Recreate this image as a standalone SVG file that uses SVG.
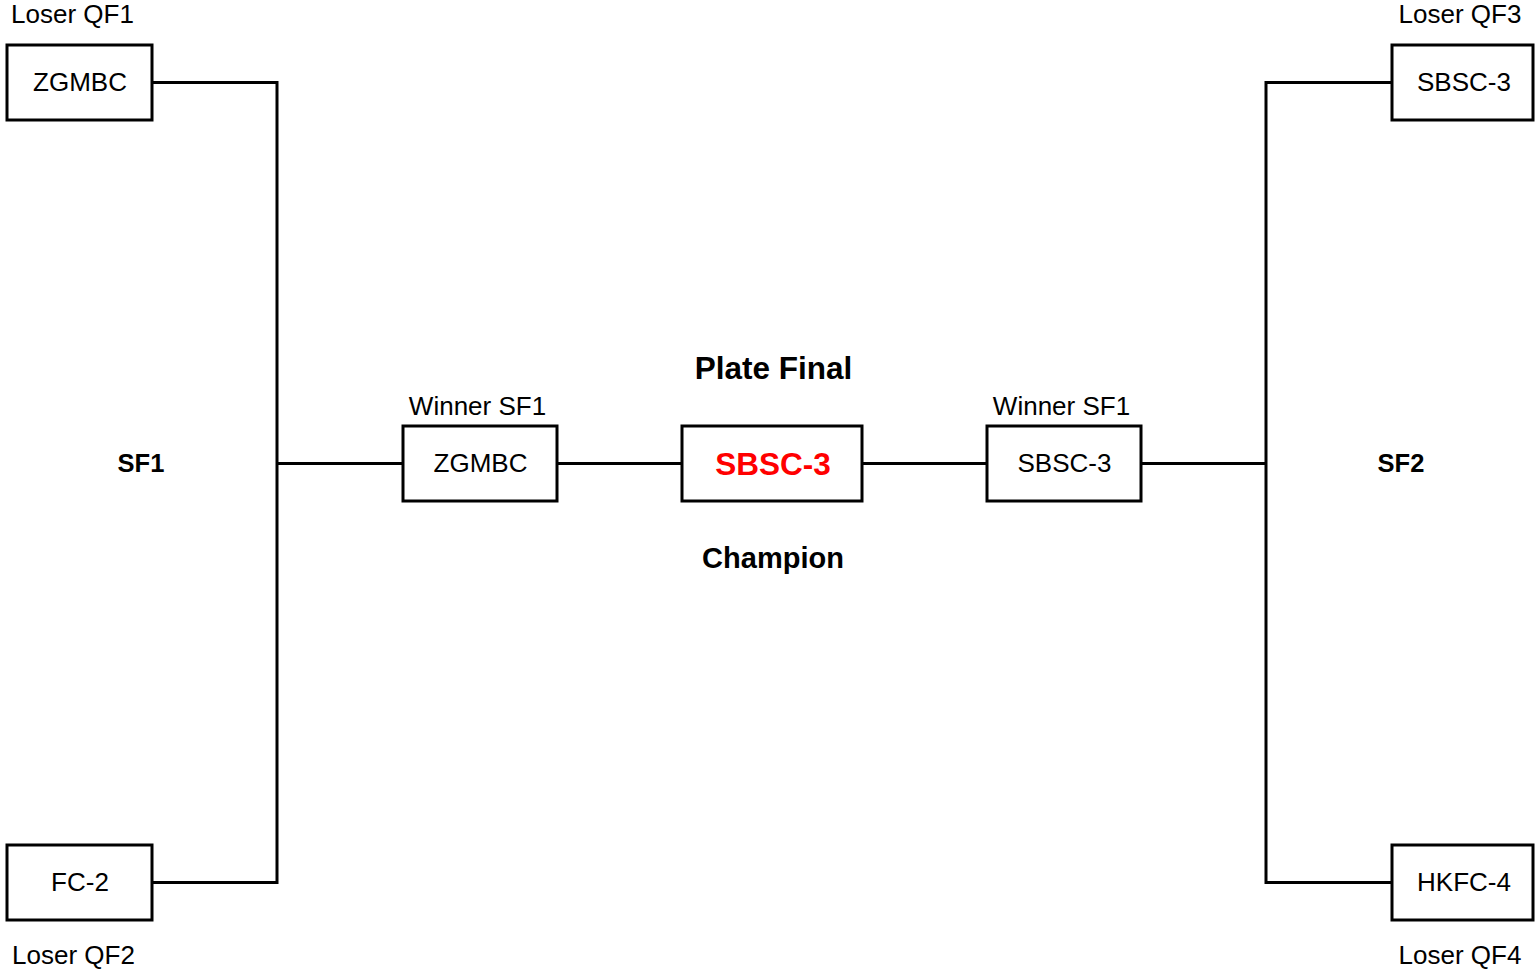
<svg xmlns="http://www.w3.org/2000/svg" width="1535" height="969" viewBox="0 0 1535 969">
<style>
.box{fill:#fff;stroke:#000;stroke-width:3}
.t{font-family:"Liberation Sans",Arial,sans-serif;font-size:26px;fill:#000;text-anchor:middle}
.b{font-weight:bold}
.c{fill:none;stroke:#000;stroke-width:3}
</style>
<rect width="1535" height="969" fill="#fff"/>
<g id="connectors">
<polyline class="c" points="152,82.5 277,82.5 277,882.5 152,882.5"/>
<line class="c" x1="277" y1="463.5" x2="403" y2="463.5"/>
<line class="c" x1="557" y1="463.5" x2="682" y2="463.5"/>
<line class="c" x1="862" y1="463.5" x2="987" y2="463.5"/>
<line class="c" x1="1141" y1="463.5" x2="1266" y2="463.5"/>
<polyline class="c" points="1392,82.5 1266,82.5 1266,882.5 1392,882.5"/>
</g>
<g id="qf1">
<text class="t" x="72.5" y="23">Loser QF1</text>
<rect class="box" x="7" y="45" width="145" height="75"/>
<text class="t" x="80" y="90.5">ZGMBC</text>
</g>
<g id="qf2">
<rect class="box" x="7" y="845" width="145" height="75"/>
<text class="t" x="80" y="890.5">FC-2</text>
<text class="t" x="73.5" y="964">Loser QF2</text>
</g>
<g id="qf3">
<text class="t" x="1460" y="23">Loser QF3</text>
<rect class="box" x="1392" y="45" width="141" height="75"/>
<text class="t" x="1464" y="90.5">SBSC-3</text>
</g>
<g id="qf4">
<rect class="box" x="1392" y="845" width="141" height="75"/>
<text class="t" x="1464" y="890.5">HKFC-4</text>
<text class="t" x="1460" y="964">Loser QF4</text>
</g>
<g id="sf1label"><text class="t b" x="141" y="471.5" style="font-size:25.5px">SF1</text></g>
<g id="sf2label"><text class="t b" x="1401" y="471.5" style="font-size:25.5px">SF2</text></g>
<g id="sf1">
<text class="t" x="477.5" y="415">Winner SF1</text>
<rect class="box" x="403" y="426" width="154" height="75"/>
<text class="t" x="480.5" y="471.5">ZGMBC</text>
</g>
<g id="final">
<text class="t b" x="773.5" y="379" style="font-size:31.5px">Plate Final</text>
<rect class="box" x="682" y="426" width="180" height="75"/>
<text class="t b" x="773" y="475" style="font-size:31.5px;fill:#ff0000">SBSC-3</text>
<text class="t b" x="773" y="568" style="font-size:29px">Champion</text>
</g>
<g id="sf2">
<text class="t" x="1061.5" y="415">Winner SF1</text>
<rect class="box" x="987" y="426" width="154" height="75"/>
<text class="t" x="1064.5" y="471.5">SBSC-3</text>
</g>
</svg>
